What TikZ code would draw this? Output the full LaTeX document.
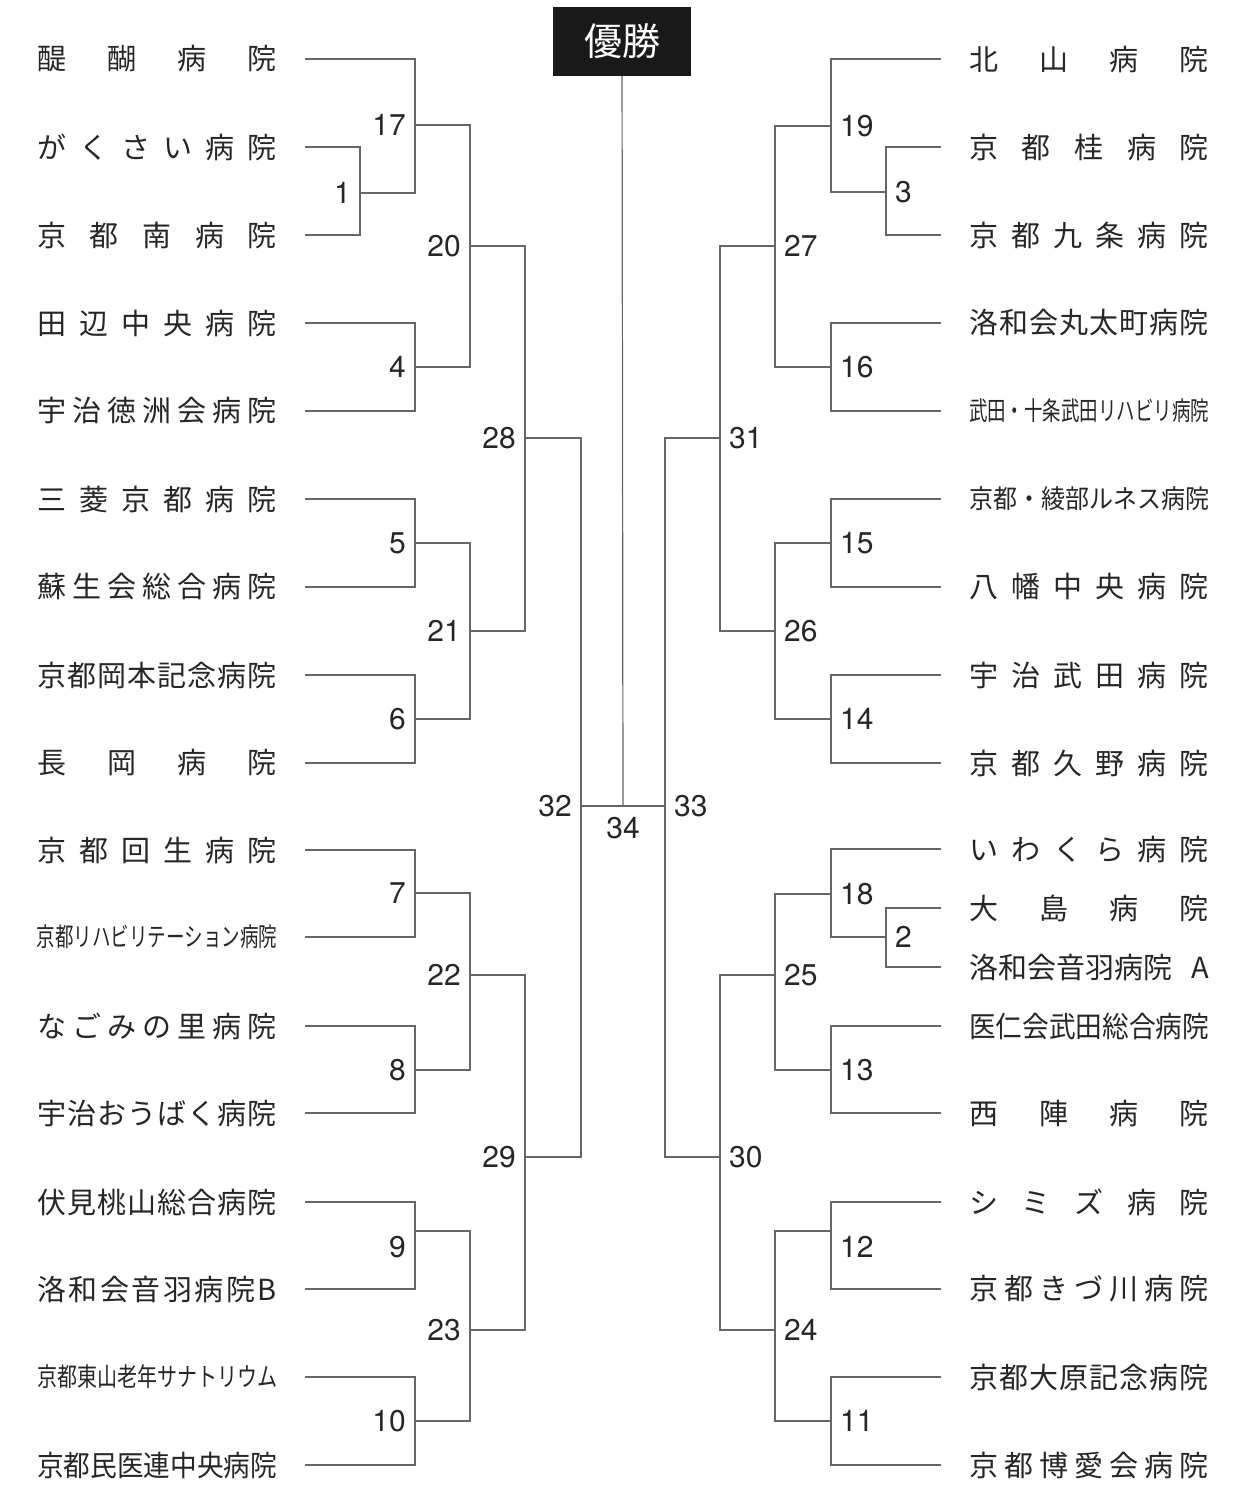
\documentclass[tikz,border=0pt]{standalone}
\usepackage{fontspec}
\usepackage{graphicx}
\setmainfont{TeX Gyre Heros}
\newfontfamily\jp{Noto Sans CJK JP}

\newlength\namew
\setlength\namew{240pt}
% spread the characters of a name over the name column
\def\spreadA#1{#1\spreadB}
\def\spreadB#1{\ifx\relax#1\else\hfill#1\expandafter\spreadB\fi}
\newcommand\spread[1]{\makebox[\namew][s]{\spreadA#1\relax}}
% squeeze a long name into the name column
\newcommand\squeeze[1]{\resizebox{\namew}{\height}{#1}}
\newcommand\smallname{\fontsize{26}{26}\selectfont}

\begin{document}
\begin{tikzpicture}[
  x=1pt, y=-1pt,
  team/.style={inner sep=0pt, outer xsep=28pt, text=black!85, font=\jp\fontsize{29}{29}\selectfont},
  leftteam/.style={team, anchor=east},
  rightteam/.style={team, anchor=west},
  num/.style={inner sep=0pt, text=black!85, font=\fontsize{30}{30}\selectfont},
  numl/.style={num, anchor=east, xshift=-9pt},
  numr/.style={num, anchor=west, xshift=9pt},
  tline/.style={draw=black!60, line width=1.2pt}
]
  \useasboundingbox (0,0) rectangle (1237,1496);

  % Winner box at the top
  \node[fill=black!90, text=white, minimum width=138pt, minimum height=69pt, inner sep=0pt,
        font=\jp\fontsize{38}{38}\selectfont] (win) at (622,41.5) {優勝};

  % Left column teams (node east = start of the team line)
  \node[leftteam] (l1)  at (305,59)   {\spread{醍醐病院}};
  \node[leftteam] (l2)  at (305,147)  {\spread{がくさい病院}};
  \node[leftteam] (l3)  at (305,235)  {\spread{京都南病院}};
  \node[leftteam] (l4)  at (305,323)  {\spread{田辺中央病院}};
  \node[leftteam] (l5)  at (305,411)  {\spread{宇治徳洲会病院}};
  \node[leftteam] (l6)  at (305,499)  {\spread{三菱京都病院}};
  \node[leftteam] (l7)  at (305,587)  {\spread{蘇生会総合病院}};
  \node[leftteam] (l8)  at (305,675)  {\spread{京都岡本記念病院}};
  \node[leftteam] (l9)  at (305,763)  {\spread{長岡病院}};
  \node[leftteam] (l10) at (305,850)  {\spread{京都回生病院}};
  \node[leftteam] (l11) at (305,937)  {\squeeze{\smallname 京都リハビリテーション病院}};
  \node[leftteam] (l12) at (305,1026) {\spread{なごみの里病院}};
  \node[leftteam] (l13) at (305,1113) {\spread{宇治おうばく病院}};
  \node[leftteam] (l14) at (305,1202) {\spread{伏見桃山総合病院}};
  \node[leftteam] (l15) at (305,1289) {\spread{洛和会音羽病院B}};
  \node[leftteam] (l16) at (305,1377) {\squeeze{\smallname 京都東山老年サナトリウム}};
  \node[leftteam] (l17) at (305,1465) {\squeeze{京都民医連中央病院}};

  % Right column teams (node west = start of the team line)
  \node[rightteam] (r1)  at (941,59)   {\spread{北山病院}};
  \node[rightteam] (r2)  at (941,147)  {\spread{京都桂病院}};
  \node[rightteam] (r3)  at (941,235)  {\spread{京都九条病院}};
  \node[rightteam] (r4)  at (941,323)  {\spread{洛和会丸太町病院}};
  \node[rightteam] (r5)  at (941,411)  {\squeeze{\smallname 武田・十条武田リハビリ病院}};
  \node[rightteam] (r6)  at (941,499)  {\squeeze{\smallname 京都・綾部ルネス病院}};
  \node[rightteam] (r7)  at (941,587)  {\spread{八幡中央病院}};
  \node[rightteam] (r8)  at (941,675)  {\spread{宇治武田病院}};
  \node[rightteam] (r9)  at (941,763)  {\spread{京都久野病院}};
  \node[rightteam] (r10) at (941,849)  {\spread{いわくら病院}};
  \node[rightteam] (r11) at (941,908)  {\spread{大島病院}};
  \node[rightteam] (r12) at (941,967)  {\makebox[\namew][s]{洛和会音羽病院\hfill A}};
  \node[rightteam] (r13) at (941,1026) {\squeeze{医仁会武田総合病院}};
  \node[rightteam] (r14) at (941,1113) {\spread{西陣病院}};
  \node[rightteam] (r15) at (941,1202) {\spread{シミズ病院}};
  \node[rightteam] (r16) at (941,1289) {\spread{京都きづ川病院}};
  \node[rightteam] (r17) at (941,1377) {\spread{京都大原記念病院}};
  \node[rightteam] (r18) at (941,1465) {\spread{京都博愛会病院}};

  % Match junctions, left half
  \coordinate (m1)  at (360,193);
  \coordinate (m17) at (415,125);
  \coordinate (m4)  at (415,367);
  \coordinate (m20) at (470,246);
  \coordinate (m5)  at (415,543);
  \coordinate (m6)  at (415,719);
  \coordinate (m21) at (470,631);
  \coordinate (m28) at (525,438);
  \coordinate (m7)  at (415,893);
  \coordinate (m8)  at (415,1070);
  \coordinate (m22) at (470,975);
  \coordinate (m9)  at (415,1231);
  \coordinate (m10) at (415,1421);
  \coordinate (m23) at (470,1330);
  \coordinate (m29) at (525,1157);
  \coordinate (m32) at (581,806);
  % Match junctions, right half
  \coordinate (m3)  at (886,192);
  \coordinate (m19) at (831,126);
  \coordinate (m16) at (831,367);
  \coordinate (m27) at (775,246);
  \coordinate (m15) at (831,543);
  \coordinate (m14) at (831,719);
  \coordinate (m26) at (775,631);
  \coordinate (m31) at (720,438);
  \coordinate (m2)  at (886,937);
  \coordinate (m18) at (831,894);
  \coordinate (m13) at (831,1070);
  \coordinate (m25) at (775,975);
  \coordinate (m12) at (831,1231);
  \coordinate (m11) at (831,1421);
  \coordinate (m24) at (775,1330);
  \coordinate (m30) at (720,1157);
  \coordinate (m33) at (665,806);
  \coordinate (m34) at (623,806);

  % Brackets, left half
  \draw[tline] (l2.east) -| (m1) |- (l3.east);
  \draw[tline] (l1.east) -| (m17) |- (m1);
  \draw[tline] (l4.east) -| (m4) |- (l5.east);
  \draw[tline] (m17) -| (m20) |- (m4);
  \draw[tline] (l6.east) -| (m5) |- (l7.east);
  \draw[tline] (l8.east) -| (m6) |- (l9.east);
  \draw[tline] (m5) -| (m21) |- (m6);
  \draw[tline] (m20) -| (m28) |- (m21);
  \draw[tline] (l10.east) -| (m7) |- (l11.east);
  \draw[tline] (l12.east) -| (m8) |- (l13.east);
  \draw[tline] (m7) -| (m22) |- (m8);
  \draw[tline] (l14.east) -| (m9) |- (l15.east);
  \draw[tline] (l16.east) -| (m10) |- (l17.east);
  \draw[tline] (m9) -| (m23) |- (m10);
  \draw[tline] (m22) -| (m29) |- (m23);
  \draw[tline] (m28) -| (m32) |- (m29);

  % Brackets, right half
  \draw[tline] (r2.west) -| (m3) |- (r3.west);
  \draw[tline] (r1.west) -| (m19) |- (m3);
  \draw[tline] (r4.west) -| (m16) |- (r5.west);
  \draw[tline] (m19) -| (m27) |- (m16);
  \draw[tline] (r6.west) -| (m15) |- (r7.west);
  \draw[tline] (r8.west) -| (m14) |- (r9.west);
  \draw[tline] (m15) -| (m26) |- (m14);
  \draw[tline] (m27) -| (m31) |- (m26);
  \draw[tline] (r11.west) -| (m2) |- (r12.west);
  \draw[tline] (r10.west) -| (m18) |- (m2);
  \draw[tline] (r13.west) -| (m13) |- (r14.west);
  \draw[tline] (m18) -| (m25) |- (m13);
  \draw[tline] (r15.west) -| (m12) |- (r16.west);
  \draw[tline] (r17.west) -| (m11) |- (r18.west);
  \draw[tline] (m12) -| (m24) |- (m11);
  \draw[tline] (m25) -| (m30) |- (m24);
  \draw[tline] (m31) -| (m33) |- (m30);

  % Final
  \draw[tline] (m32) -- (m33);
  \draw[tline] (win) -- (m34);

  % Match numbers
  \node[numl] (n1)  at (m1)  {1};
  \node[numl] (n17) at (m17) {17};
  \node[numl] (n4)  at (m4)  {4};
  \node[numl] (n20) at (m20) {20};
  \node[numl] (n5)  at (m5)  {5};
  \node[numl] (n6)  at (m6)  {6};
  \node[numl] (n21) at (m21) {21};
  \node[numl] (n28) at (m28) {28};
  \node[numl] (n7)  at (m7)  {7};
  \node[numl] (n8)  at (m8)  {8};
  \node[numl] (n22) at (m22) {22};
  \node[numl, yshift=-16pt] (n9) at (m9) {9};
  \node[numl] (n10) at (m10) {10};
  \node[numl] (n23) at (m23) {23};
  \node[numl] (n29) at (m29) {29};
  \node[numl] (n32) at (m32) {32};
  \node[numr] (n3)  at (m3)  {3};
  \node[numr] (n19) at (m19) {19};
  \node[numr] (n16) at (m16) {16};
  \node[numr] (n27) at (m27) {27};
  \node[numr] (n15) at (m15) {15};
  \node[numr] (n14) at (m14) {14};
  \node[numr] (n26) at (m26) {26};
  \node[numr] (n31) at (m31) {31};
  \node[numr] (n2)  at (m2)  {2};
  \node[numr] (n18) at (m18) {18};
  \node[numr] (n13) at (m13) {13};
  \node[numr] (n25) at (m25) {25};
  \node[numr, yshift=-16pt] (n12) at (m12) {12};
  \node[numr] (n11) at (m11) {11};
  \node[numr] (n24) at (m24) {24};
  \node[numr] (n30) at (m30) {30};
  \node[numr] (n33) at (m33) {33};
  \node[num, anchor=north, yshift=-11pt] (n34) at (m34) {34};
\end{tikzpicture}
\end{document}
